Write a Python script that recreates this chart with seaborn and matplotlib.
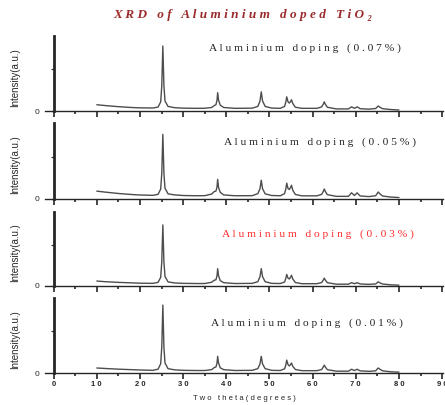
import numpy as np
import pandas as pd
import matplotlib
matplotlib.use("Agg")
import matplotlib.pyplot as plt
import seaborn as sns

sns.set_theme(style="ticks")
plt.rcParams["font.family"] = ["Liberation Sans", "DejaVu Sans"]

# two theta vertices of the traced patterns (shared by all samples)
two_theta = [10, 12, 15, 18, 20, 23, 24.2, 24.8, 25.05, 25.3, 25.55, 25.8, 26.5,
             28, 30, 33, 35, 36.6, 37.2, 37.6, 37.85, 38.0, 38.2, 38.6, 39.4,
             42, 46, 47.3, 47.8, 48.1, 48.4, 49.0, 50.5, 52.5, 53.5, 53.8, 54.0,
             54.3, 54.6, 54.9, 55.1, 55.4, 56.0, 57.5, 61.0, 62.1, 62.5, 62.7,
             62.9, 63.4, 65.5, 68.3, 69.0, 69.7, 70.3, 71.0, 73.0, 74.6, 75.0,
             75.2, 75.5, 76.2, 78, 80]

# intensities (a.u.)
int_007 = [75, 65, 52, 42, 38, 36, 48, 110, 300, 780, 300, 120, 55,
           40, 34, 32, 33, 42, 65, 75, 130, 220, 130, 70, 42,
           32, 34, 55, 120, 230, 120, 55, 35, 32, 55, 110, 170,
           110, 95, 115, 135, 90, 45, 32, 32, 50, 85, 110,
           85, 45, 25, 25, 50, 32, 50, 28, 22, 30, 50,
           60, 48, 28, 18, 12]
int_005 = [90, 78, 62, 50, 44, 40, 52, 115, 300, 765, 300, 125, 58,
           45, 38, 35, 36, 55, 85, 90, 140, 230, 135, 75, 45,
           35, 36, 60, 118, 220, 118, 58, 38, 35, 60, 120, 185,
           120, 110, 135, 160, 100, 50, 34, 34, 52, 90, 115,
           90, 48, 28, 28, 70, 38, 70, 33, 25, 35, 65,
           80, 62, 32, 20, 14]
int_003 = [60, 52, 44, 38, 34, 32, 44, 105, 290, 740, 290, 115, 50,
           37, 32, 30, 30, 45, 70, 75, 125, 210, 125, 65, 40,
           30, 32, 52, 112, 210, 112, 52, 32, 30, 48, 95, 140,
           95, 85, 108, 130, 85, 42, 28, 28, 42, 75, 95,
           75, 40, 22, 22, 40, 28, 40, 25, 20, 25, 42,
           50, 40, 24, 15, 10]
int_001 = [60, 54, 46, 40, 36, 32, 46, 112, 310, 815, 310, 120, 52,
           38, 32, 30, 30, 40, 65, 72, 120, 200, 120, 62, 40,
           30, 32, 52, 108, 200, 108, 52, 32, 30, 50, 100, 155,
           100, 85, 102, 120, 80, 42, 28, 28, 42, 75, 95,
           75, 40, 22, 22, 45, 30, 45, 26, 20, 26, 50,
           60, 48, 26, 15, 10]

samples = ["0.07%", "0.05%", "0.03%", "0.01%"]
intensities = [int_007, int_005, int_003, int_001]
label_colors = ["#222222", "#222222", "#ff2a2a", "#222222"]
label_x = [36, 39.5, 39, 36.5]
label_y = [0.84, 0.74, 0.70, 0.66]

x_ticks = [0, 10, 20, 30, 40, 50, 60, 70, 80, 90]
x_tick_labels = ["0", "1 0", "2 0", "3 0", "4 0", "5 0", "6 0", "7 0", "8 0", "9 0"]

fig = plt.figure(figsize=(4.45, 4.05), dpi=100)
W, H = 445, 405
panel_px = [(36, 111), (123, 198.7), (211.7, 286), (298, 373)]

for i, (name, vals) in enumerate(zip(samples, intensities)):
    top, base = panel_px[i]
    ax = fig.add_axes([45 / W, 1 - base / H, 398 / W, (base - top) / H])
    df = pd.DataFrame({"two_theta": two_theta, "intensity": vals})
    sns.lineplot(data=df, x="two_theta", y="intensity", ax=ax,
                 color="#4d4d4d", lw=1.0)
    ax.set_xlim(-2, 90.2)
    ax.set_ylim(0, 900)
    ax.spines["top"].set_visible(False)
    ax.spines["right"].set_visible(False)
    ax.spines["left"].set_position(("data", 0))
    ax.spines["left"].set_linewidth(2.0)
    ax.spines["bottom"].set_linewidth(1.0)
    ax.set_yticks([0, 500])
    ax.set_yticklabels(["0", ""], fontsize=6)
    ax.tick_params(axis="y", length=2.5, width=0.8, pad=8)
    ax.set_xticks(x_ticks)
    ax.set_xticks([5, 15, 25, 35, 45, 55, 65, 75, 85], minor=True)
    ax.tick_params(axis="x", which="major", length=4, width=1.2, direction="out", pad=1.5)
    ax.tick_params(axis="x", which="minor", length=2.5, width=1.2, direction="out")
    if i == 3:
        ax.set_xticklabels(x_tick_labels, fontsize=5.5, fontweight="bold")
        ax.set_xlabel("T w o   t h e t a ( d e g r e e s )", fontsize=5.5, labelpad=5)
    else:
        ax.set_xticklabels([])
        ax.set_xlabel("")
    ax.set_ylabel("Intensity(a.u.)", fontsize=7)
    ax.yaxis.set_label_coords(-0.063, 0.45)
    ax.text(label_x[i], label_y[i],
            "A l u m i n i u m   d o p i n g   ( " + " ".join(name) + " )",
            transform=ax.get_xaxis_transform(), fontsize=8.2, color=label_colors[i],
            family=["Liberation Serif", "DejaVu Serif"], va="center", ha="left")

fig.text(0.545, 1 - 15 / H, "X R D   o f   A l u m i n i u m   d o p e d   T i O ₂",
         ha="center", va="center", fontsize=9.5, color="#9b2a2a", style="italic",
         fontweight="bold", family=["Liberation Serif", "DejaVu Serif"])

fig.savefig("out.png", dpi=100)
